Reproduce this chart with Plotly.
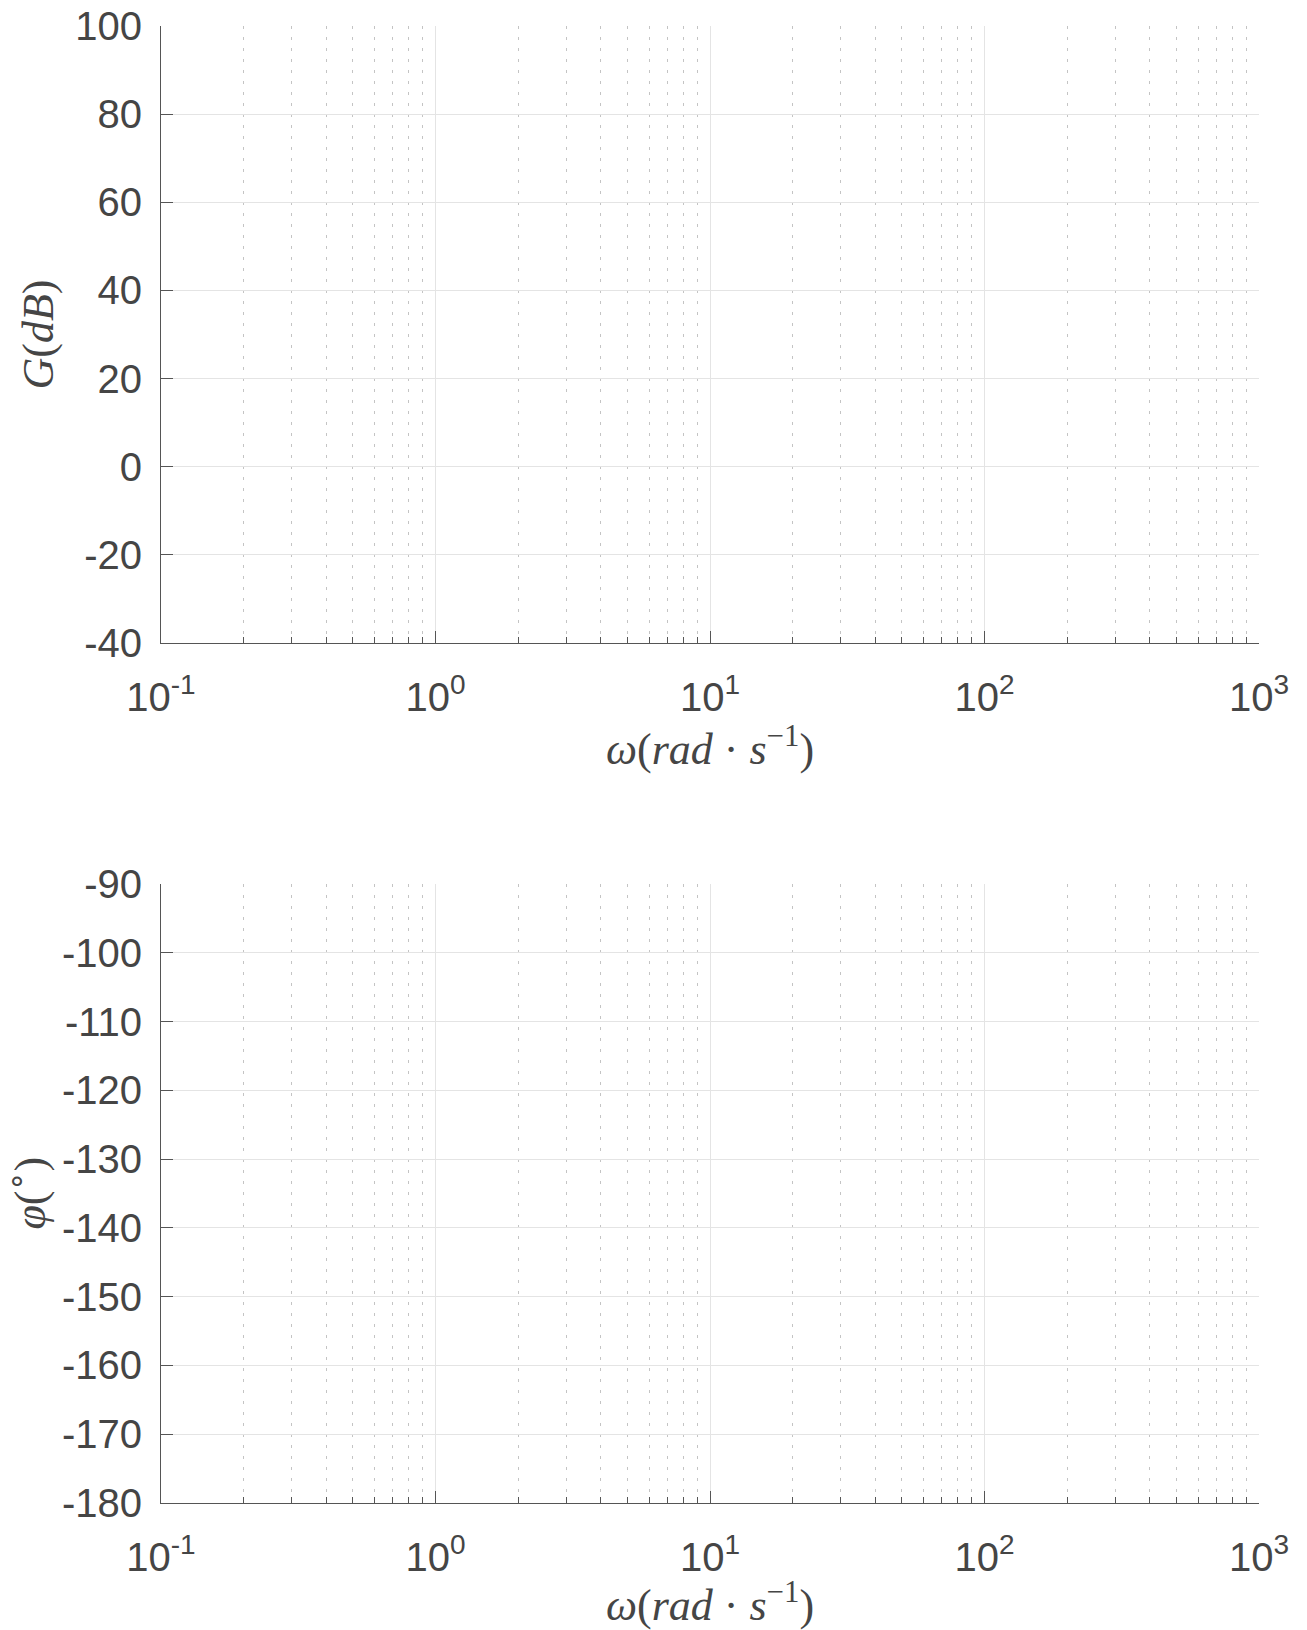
import plotly.graph_objects as go

# ---- data (empty Bode template) ----
freq_decades = [0.1, 1, 10, 100, 1000]
freq_labels = ["10<sup>-1</sup>", "10<sup>0</sup>", "10<sup>1</sup>", "10<sup>2</sup>", "10<sup>3</sup>"]
freq_minor = [k * d for d in [0.1, 1, 10, 100] for k in range(2, 10)]
gain_ticks = [-40, -20, 0, 20, 40, 60, 80, 100]
phase_ticks = [-180, -170, -160, -150, -140, -130, -120, -110, -100, -90]
gain_range = [-40, 100]
phase_range = [-180, -90]
gain_title = "<i>G</i>(<i>dB</i>)"
phase_title = "<i>φ</i>(<sup>∘</sup>)"
freq_title = "<i>ω</i>(<i>rad</i> · <i>s</i><sup>−1</sup>)"

TXT = "#454545"
AX = "#555555"
MAJ = "#e4e4e4"
MIN = "#c4c4c4"
TICKFONT = dict(family="Liberation Sans, Arial, sans-serif", size=40, color=TXT)
TITLEFONT = dict(family="Liberation Serif, Times New Roman, serif", size=44, color=TXT)

GAIN_DOM = [0.5823, 1.0]
PHASE_DOM = [0.0, 0.4191]

fig = go.Figure()
fig.add_trace(go.Scatter(x=[], y=[], xaxis="x", yaxis="y", showlegend=False))
fig.add_trace(go.Scatter(x=[], y=[], xaxis="x2", yaxis="y2", showlegend=False))

def xax(anchor):
    return dict(
        type="log", range=[-1, 3], anchor=anchor, automargin=False,
        tickvals=freq_decades, ticktext=freq_labels,
        ticks="inside", ticklen=12, tickwidth=1, tickcolor=AX,
        showline=True, linecolor=AX, linewidth=1, mirror=False,
        showgrid=True, gridcolor=MAJ, gridwidth=1,
        minor=dict(tickvals=freq_minor, ticks="inside", ticklen=6, tickcolor=AX,
                   showgrid=True, gridcolor=MIN, griddash="3px,8px", gridwidth=1),
        tickfont=TICKFONT, ticklabelstandoff=19, ticklabeloverflow="allow",
        title=dict(text=freq_title, font=TITLEFONT, standoff=3),
        zeroline=False,
    )

def yax(anchor, rng, ticks, domain):
    return dict(
        range=rng, anchor=anchor, domain=domain, automargin=False,
        tickvals=ticks, ticktext=[str(t) for t in ticks],
        ticks="inside", ticklen=12, tickwidth=1, tickcolor=AX,
        showline=True, linecolor=AX, linewidth=1, mirror=False,
        showgrid=True, gridcolor=MAJ, gridwidth=1,
        tickfont=TICKFONT, ticklabelstandoff=10, ticklabeloverflow="allow",
        zeroline=False,
    )

fig.update_layout(
    width=1299, height=1622,
    margin=dict(l=153, r=48, t=18, b=127),
    plot_bgcolor="white", paper_bgcolor="white",
    showlegend=False,
    xaxis=xax("y"),
    yaxis=yax("x", gain_range, gain_ticks, GAIN_DOM),
    xaxis2=xax("y2"),
    yaxis2=yax("x2", phase_range, phase_ticks, PHASE_DOM),
)

# y-axis titles as rotated annotations
fig.add_annotation(text=gain_title, xref="paper", yref="paper", x=-0.112,
                   y=sum(GAIN_DOM) / 2, textangle=-90, showarrow=False,
                   xanchor="center", yanchor="middle", font=TITLEFONT)
fig.add_annotation(text=phase_title, xref="paper", yref="paper", x=-0.122,
                   y=sum(PHASE_DOM) / 2, textangle=-90, showarrow=False,
                   xanchor="center", yanchor="middle", font=TITLEFONT)

fig.write_html("out.html")
